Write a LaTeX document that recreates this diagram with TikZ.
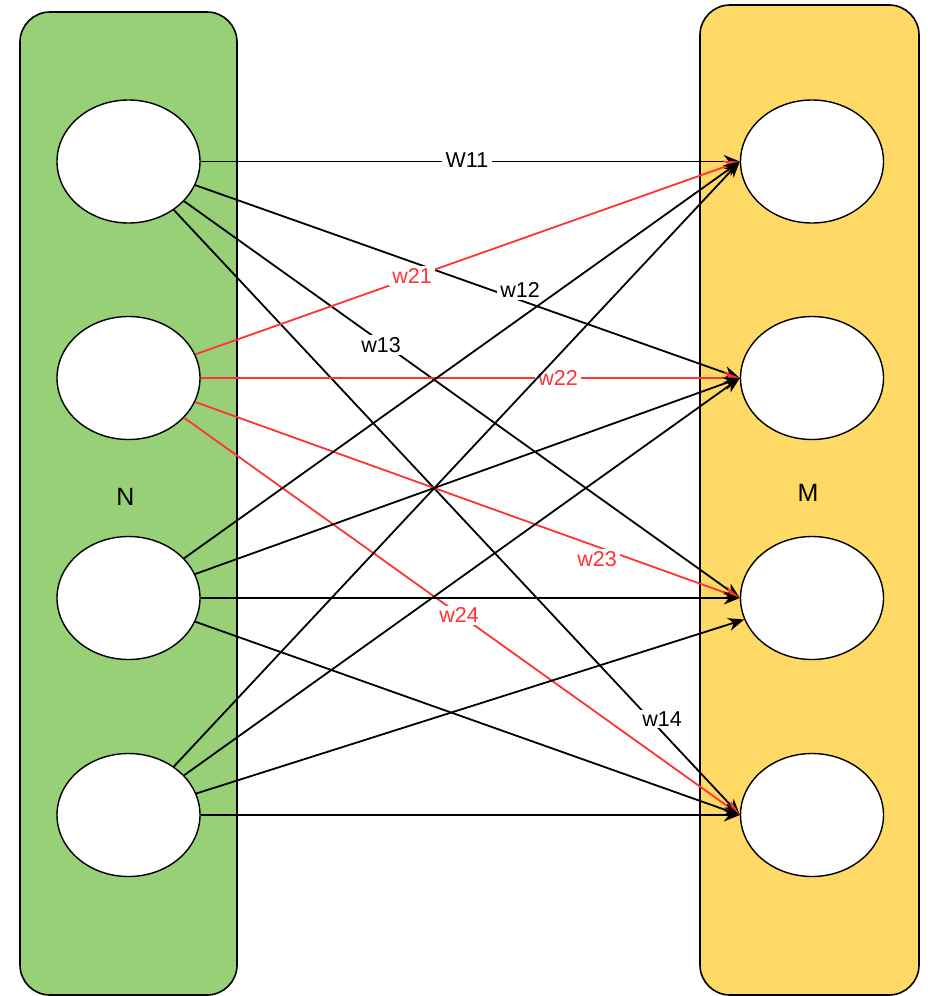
\documentclass[tikz,border=0pt]{standalone}
\usepackage{fontspec}
\setmainfont{Liberation Sans}
\usetikzlibrary{shapes.geometric,arrows.meta}

\definecolor{layerN}{HTML}{97D077}
\definecolor{layerM}{HTML}{FFD966}
\definecolor{wred}{HTML}{FF3333}

\tikzset{
  layer/.style={draw=black, line width=1.6pt, rounded corners=30pt},
  neuron/.style={ellipse, draw=black, fill=white, line width=1.4pt,
                 minimum width=143pt, minimum height=123pt, inner sep=0pt},
  conn/.style={line width=1.8pt, draw=black,
               -{Stealth[length=16pt,width=13pt,inset=5pt]}},
  redconn/.style={conn, draw=wred, color=wred},
  wlabel/.style={fill=white, inner xsep=3.5pt, inner ysep=2pt,
                 font=\fontsize{21.5}{24}\selectfont},
  redlabel/.style={wlabel, text=wred},
  layername/.style={font=\fontsize{25}{28}\selectfont}
}

\begin{document}
\begin{tikzpicture}[x=1pt,y=-1pt]
  \useasboundingbox (0,0) rectangle (928,996);

  % layer containers
  \draw[layer, fill=layerN] (20,12) rectangle (237,995);
  \draw[layer, fill=layerM] (700,5) rectangle (919,995);
  \node[layername] (N) at (125.5,497) {N};
  \node[layername] (M) at (808,493) {M};

  % input neurons
  \node[neuron] (L1) at (128.5,161.5) {};
  \node[neuron] (L2) at (128.5,378) {};
  \node[neuron] (L3) at (128.5,598) {};
  \node[neuron] (L4) at (128.5,815) {};
  % output neurons
  \node[neuron] (R1) at (812,161.5) {};
  \node[neuron] (R2) at (812,378) {};
  \node[neuron] (R3) at (812,598) {};
  \node[neuron] (R4) at (812,815) {};

  % weights from the first input
  \draw[conn] (L1) -- (R1.west);
  \draw[conn] (L1) -- (R2.west);
  \draw[conn] (L1) -- (R3.west);
  \draw[conn] (L1) -- (R4.west);
  \node[wlabel] (w11) at (467,160) {W11};
  \node[wlabel] (w12) at (520,290) {w12};
  \node[wlabel] (w13) at (381,345) {w13};
  \node[wlabel] (w14) at (662,719) {w14};

  % weights from the second input
  \draw[redconn] (L2) -- (R1.west);
  \draw[redconn] (L2) -- (R2.west);
  \draw[redconn] (L2) -- (R3.west);
  \draw[redconn] (L2) -- (R4.west);
  \node[redlabel] (w21) at (412,276) {w21};
  \node[redlabel] (w22) at (558,378) {w22};
  \node[redlabel] (w23) at (597,559) {w23};
  \node[redlabel] (w24) at (459,615) {w24};

  % weights from the third input
  \draw[conn] (L3) -- (R1.west);
  \draw[conn] (L3) -- (R2.west);
  \draw[conn] (L3) -- (R3.west);
  \draw[conn] (L3) -- (R4.west);

  % weights from the fourth input
  \draw[conn] (L4) -- (R1.west);
  \draw[conn] (L4) -- (R2.west);
  \draw[conn] (L4) -- (R3);
  \draw[conn] (L4) -- (R4.west);
\end{tikzpicture}
\end{document}
